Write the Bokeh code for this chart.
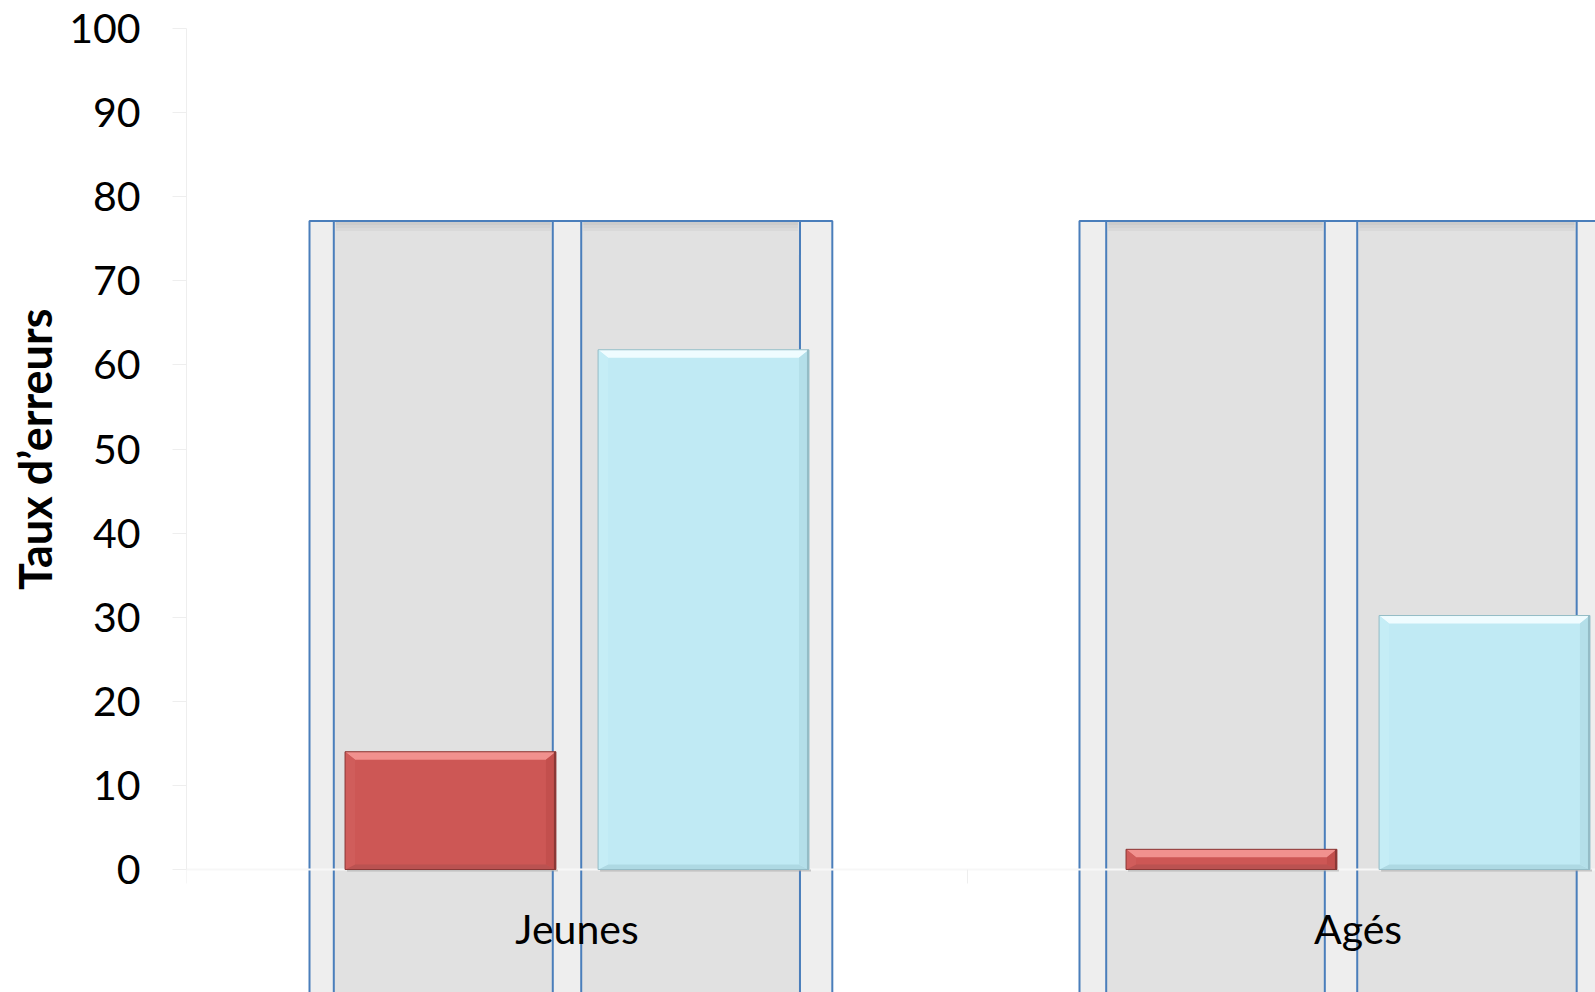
from bokeh.plotting import figure
from bokeh.models import Range1d, FixedTicker, Title
from bokeh.core.properties import value
from bokeh.embed import file_html
from bokeh.resources import INLINE

# ---- data -------------------------------------------------------------
categories = ["Jeunes", "Agés"]
series_red = [14.0, 2.4]
series_cyan = [61.8, 30.2]
y_ticks = [0, 10, 20, 30, 40, 50, 60, 70, 80, 90, 100]
y_label = "Taux d’erreurs"

# ---- layout (pixels) --------------------------------------------------
W, H = 1595, 992
FRAME_LEFT = 186          # x pixel of the value axis
ZERO_PX = 869             # y pixel of value 0
TOP_PX = 28               # y pixel of value 100
CAT_PX = 781              # width of one category in pixels
CAT_LABEL_PX = 928        # baseline row of the category labels

px_per_unit = (ZERO_PX - TOP_PX) / 100.0
PX_X = 1.0 / CAT_PX
PX_Y = 1.0 / px_per_unit
y_start = -(H - ZERO_PX) * PX_Y
y_end = 100 + TOP_PX * PX_Y
x_end = (W - FRAME_LEFT) * PX_X

# bar placement inside each category (fractions of a category)
BAR_W = 0.27
BAR_CENTERS = [0.338, 0.662]

# shaded column panels behind each category (fractions of a category)
PANEL_TOP = 77.1
PANELS = [
    dict(outer=(0.1575, 0.8269), inner=[(0.1886, 0.4690), (0.5054, 0.7855)]),
    dict(outer=(0.1434, 0.8130), inner=[(0.1776, 0.4575), (0.4990, 0.7800)]),
]

FONT = "Lato"
BLUE = "#4a7ebb"

p = figure(width=W, height=H, x_range=Range1d(0, x_end), y_range=Range1d(y_start, y_end),
           output_backend="svg", toolbar_location=None, title=None,
           x_axis_location=None, y_axis_location="left",
           min_border_left=FRAME_LEFT, min_border_right=0,
           min_border_top=0, min_border_bottom=0)
p.grid.visible = False
p.outline_line_color = None
p.background_fill_color = "white"
p.border_fill_color = "white"

# value axis
ax = p.yaxis[0]
ax.ticker = FixedTicker(ticks=y_ticks)
ax.bounds = (0, 100)
ax.axis_line_color = "#eeeeee"
ax.major_tick_line_color = "#eeeeee"
ax.major_tick_out = 14
ax.major_tick_in = 0
ax.minor_tick_line_color = None
ax.major_label_text_font = FONT
ax.major_label_text_font_size = "41px"
ax.major_label_text_color = "#000000"
ax.major_label_standoff = 32

p.add_layout(Title(text=y_label, align="right", offset=308, standoff=10,
                   text_font=FONT, text_font_size="45px", text_font_style="bold",
                   text_color="#000000"), "left")

# ---- shaded panels ----------------------------------------------------
bottom = y_start - 5
ol, orr, il, ir = [], [], [], []
for i, pan in enumerate(PANELS):
    ol.append(i + pan["outer"][0]); orr.append(i + pan["outer"][1])
    for a, b in pan["inner"]:
        il.append(i + a); ir.append(i + b)

p.quad(left=ol, right=orr, top=PANEL_TOP, bottom=bottom,
       fill_color="#eeeeee", line_color=BLUE, line_width=2)
p.quad(left=il, right=ir, top=PANEL_TOP, bottom=bottom,
       fill_color="#e1e1e1", line_color=BLUE, line_width=2)
# soft shadow under the top edge of the inner columns
for k, a in enumerate([0.09, 0.06, 0.03]):
    p.quad(left=[x + 2 * PX_X for x in il], right=[x - 2 * PX_X for x in ir],
           top=PANEL_TOP - (1 + 3 * k) * PX_Y, bottom=PANEL_TOP - (4 + 3 * k) * PX_Y,
           fill_color="black", fill_alpha=a, line_color=None)

# ---- category axis ----------------------------------------------------
p.segment(x0=[0], x1=[x_end], y0=[0], y1=[0], line_color="#f7f7f7", line_width=2)
p.segment(x0=[0, 1], x1=[0, 1], y0=[0, 0], y1=[-14 * PX_Y] * 2,
          line_color="#eeeeee", line_width=1)
p.text(x=[i + 0.5 for i in range(len(categories))],
       y=[-(CAT_LABEL_PX - ZERO_PX) * PX_Y] * len(categories),
       text=categories, text_align="center", text_baseline="alphabetic",
       text_font=value(FONT), text_font_size="41px", text_color="#000000")

# ---- bevelled bars ----------------------------------------------------
def bevel_bars(values, center, main, light, left_c, right_c, dark, edge):
    x0 = [i + center - BAR_W / 2 for i in range(len(values))]
    x1 = [i + center + BAR_W / 2 for i in range(len(values))]
    # faint drop shadow along the bottom edge
    p.quad(left=[a + 2 * PX_X for a in x0], right=[b + 2 * PX_X for b in x1],
           top=0, bottom=-2 * PX_Y, fill_color="#9a9a9a", fill_alpha=0.5, line_color=None)
    p.quad(left=x0, right=x1, top=values, bottom=0, fill_color=main, line_color=None)
    w, ht, hb = 10 * PX_X, 8 * PX_Y, 5 * PX_Y
    xs, ys, cs = [], [], []
    for a, b, v in zip(x0, x1, values):
        it, ib = v - ht, hb
        xs.append([a, b, b - w, a + w]); ys.append([v, v, it, it]); cs.append(light)
        xs.append([a, b, b - w, a + w]); ys.append([0, 0, ib, ib]); cs.append(dark)
        xs.append([a, a + w, a + w, a]); ys.append([0, ib, it, v]); cs.append(left_c)
        xs.append([b, b - w, b - w, b]); ys.append([0, ib, it, v]); cs.append(right_c)
    p.patches(xs=xs, ys=ys, fill_color=cs, line_color=None)
    p.quad(left=x0, right=x1, top=values, bottom=0, fill_color=None,
           line_color=edge, line_width=1)
    # darker right-hand edge
    p.segment(x0=[b - PX_X for b in x1], x1=[b - PX_X for b in x1], y0=0, y1=values,
              line_color=edge, line_width=2)

bevel_bars(series_red, BAR_CENTERS[0], "#cd5755", "#f1918e", "#d05d5b", "#c34f4d", "#ba5251", "#8a3836")
bevel_bars(series_cyan, BAR_CENTERS[1], "#c0eaf4", "#effcff", "#c5edf6", "#b4dfe9", "#aed9e3", "#94bcc6")

open("out.html", "w").write(file_html(p, INLINE))
